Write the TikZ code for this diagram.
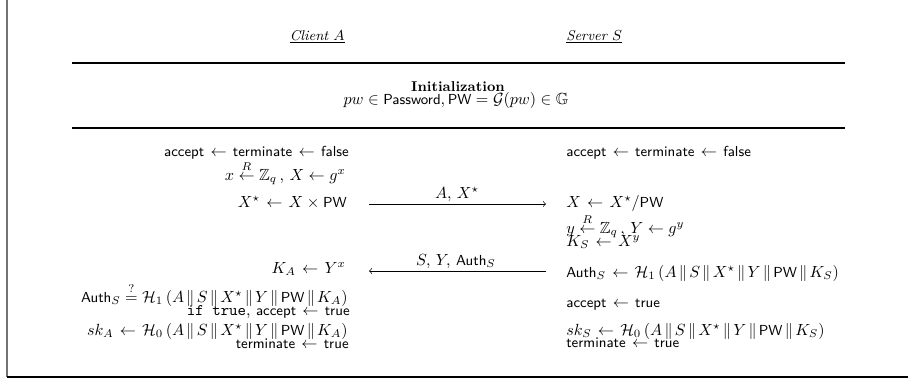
\documentclass[tikz,border=0pt]{standalone}
\usepackage{amsmath,amssymb}
\newcommand{\sfx}[1]{\text{\fontsize{9}{10}\selectfont\sffamily #1}}
\newcommand{\PWd}{\sfx{PW}}
\newcommand{\Hd}{\mathcal{H}}
\newcommand{\Authd}{\sfx{Auth}}
\newcommand{\cc}{\mkern2.6mu\|\mkern2.6mu}
\newcommand{\gt}{\mkern2mu\leftarrow\mkern2mu}
\newcommand{\randgets}{\stackrel{R}{\leftarrow}}
\newcommand{\smtext}{\fontsize{8.8}{10}\selectfont}
\begin{document}
\begin{tikzpicture}[x=0.62pt,y=-0.62pt,
  lcol/.style={anchor=base east,inner sep=0pt},
  rcol/.style={anchor=base west,inner sep=0pt},
  ccol/.style={anchor=base,inner sep=0pt},
  rule/.style={line width=0.8pt},
  msg/.style={->,line width=0.4pt},
  frame/.style={line width=1.1pt,draw=black!55}]
\useasboundingbox (0,0) rectangle (908,381);
% frame
\coordinate (ftop) at (7,0);
\coordinate (fcorner) at (7,377);
\coordinate (fright) at (908,377);
\draw[frame] (ftop) -- (fcorner);
\draw[rule] (fcorner) -- (fright);
% header
\node[lcol] (client) at (345,40) {\smtext\underline{\textit{Client $A$}}};
\node[rcol] (server) at (566,40) {\smtext\underline{\textit{Server $S$}}};
\coordinate (r1a) at (72,63); \coordinate (r1b) at (845,63);
\draw[rule] (r1a) -- (r1b);
\node[ccol] (init) at (458,91) {\smtext\textbf{Initialization}};
\node[ccol] (initf) at (456,104) {$pw \in \sfx{Password}, \PWd = \mathcal{G}(pw) \in \mathbb{G}$};
\coordinate (r2a) at (72,128); \coordinate (r2b) at (845,128);
\draw[rule] (r2a) -- (r2b);
% left column
\node[lcol] (l1) at (349,156) {$\sfx{accept} \gt \sfx{terminate} \gt \sfx{false}$};
\node[lcol] (l2) at (346,180) {$x \randgets \mathbb{Z}_q\, ,\, X \leftarrow g^{x}$};
\node[lcol] (l3) at (347,207) {$X^{\star} \gt X \times \PWd$};
\node[lcol] (l4) at (346,273) {$K_{A} \gt Y^{x}$};
\node[lcol] (l5) at (348,302) {$\Authd_{S} \stackrel{?}{=} \Hd_1\,(A\cc S\cc X^{\star}\cc Y\cc\PWd\cc K_{A})$};
\node[lcol] (l6) at (350,315) {\texttt{if true}, $\sfx{accept} \gt \sfx{true}$};
\node[lcol] (l7) at (348,335) {$sk_{A} \gt \Hd_0\,(A\cc S\cc X^{\star}\cc Y\cc\PWd\cc K_{A})$};
\node[lcol] (l8) at (349,348) {$\sfx{terminate} \gt \sfx{true}$};
% right column
\node[rcol] (s1) at (566,156) {$\sfx{accept} \gt \sfx{terminate} \gt \sfx{false}$};
\node[rcol] (s2) at (566,207) {$X \gt X^{\star}/\PWd$};
\node[rcol] (s3) at (566,233) {$y \randgets \mathbb{Z}_q\, ,\, Y \leftarrow g^{y}$};
\node[rcol] (s4) at (566,246) {$K_{S} \gt X^{y}$};
\node[rcol] (s5) at (566,277) {$\Authd_{S} \gt \Hd_1\,(A\cc S\cc X^{\star}\cc Y\cc\PWd\cc K_{S})$};
\node[rcol] (s6) at (566,307) {$\sfx{accept} \gt \sfx{true}$};
\node[rcol] (s7) at (566,335) {$sk_{S} \gt \Hd_0\,(A\cc S\cc X^{\star}\cc Y\cc\PWd\cc K_{S})$};
\node[rcol] (s8) at (566,347) {$\sfx{terminate} \gt \sfx{true}$};
% messages
\coordinate (m1a) at (369,204); \coordinate (m1b) at (546,204);
\draw[msg] (m1a) -- (m1b);
\node[ccol] (m1l) at (457,198) {$A,\, X^{\star}$};
\coordinate (m2a) at (546,271); \coordinate (m2b) at (369,271);
\draw[msg] (m2a) -- (m2b);
\node[ccol] (m2l) at (456,265) {$S,\, Y,\, \Authd_{S}$};
\end{tikzpicture}
\end{document}
